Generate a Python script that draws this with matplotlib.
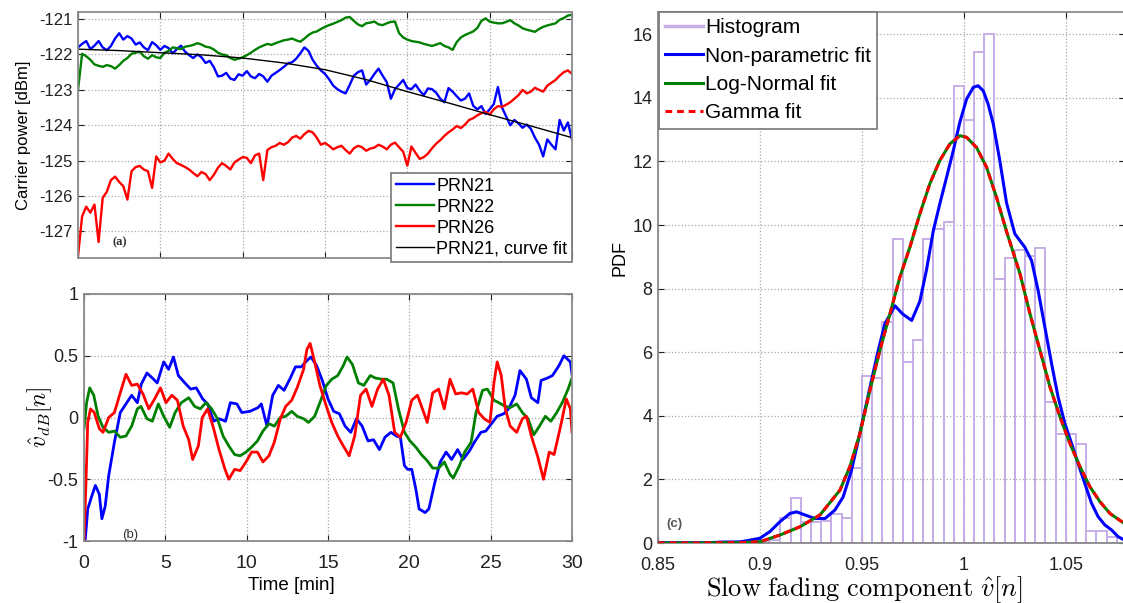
import numpy as np
import matplotlib
matplotlib.use('Agg')
import matplotlib.pyplot as plt

plt.rcParams['font.family'] = ['Liberation Sans', 'DejaVu Sans']
plt.rcParams['mathtext.fontset'] = 'cm'
plt.rcParams['axes.unicode_minus'] = False

# ---------------- (a) carrier power, one sample every 0.25 min ----------------
time_a = np.linspace(0, 30, 121)

prn21 = [-121.80, -121.70, -121.62, -121.85, -121.75, -121.62, -121.80, -121.88, -121.76, -121.55,
         -121.40, -121.58, -121.48, -121.55, -121.72, -121.66, -121.80, -121.88, -121.65, -121.74,
         -121.87, -121.76, -121.82, -121.97, -121.85, -121.75, -121.92, -122.02, -122.10, -122.00,
         -122.08, -122.24, -122.18, -122.36, -122.62, -122.60, -122.52, -122.68, -122.72, -122.56,
         -122.60, -122.47, -122.62, -122.67, -122.55, -122.62, -122.77, -122.60, -122.52, -122.44,
         -122.35, -122.25, -122.22, -122.12, -121.97, -121.80, -121.90, -122.15, -122.32, -122.45,
         -122.55, -122.70, -122.88, -122.98, -123.05, -123.10, -122.86, -122.60, -122.50, -122.45,
         -122.85, -122.72, -122.55, -122.40, -122.60, -122.78, -123.25, -122.98, -122.85, -122.72,
         -122.95, -122.98, -122.85, -123.02, -123.15, -122.96, -122.98, -123.08, -123.25, -123.35,
         -122.95, -123.05, -123.18, -123.30, -123.25, -123.10, -123.45, -123.55, -123.46, -123.68,
         -123.55, -123.40, -122.92, -123.50, -123.75, -124.00, -123.85, -123.95, -124.07, -123.98,
         -124.10, -124.35, -124.55, -124.88, -124.40, -124.55, -124.68, -123.85, -124.15, -123.92,
         -124.40]

prn22 = [-123.00, -121.98, -122.05, -122.15, -122.28, -122.32, -122.35, -122.30, -122.33, -122.40,
         -122.30, -122.18, -122.10, -121.98, -121.95, -121.92, -122.05, -122.12, -122.02, -122.08,
         -122.10, -121.95, -121.90, -121.80, -121.82, -121.85, -121.78, -121.76, -121.73, -121.68,
         -121.72, -121.78, -121.80, -121.86, -121.95, -122.00, -122.02, -122.10, -122.15, -122.12,
         -122.08, -122.02, -121.95, -121.87, -121.80, -121.75, -121.70, -121.73, -121.68, -121.64,
         -121.60, -121.58, -121.55, -121.60, -121.64, -121.55, -121.45, -121.38, -121.35, -121.28,
         -121.22, -121.17, -121.13, -121.08, -121.03, -120.96, -120.94, -121.05, -121.15, -121.20,
         -121.12, -121.10, -121.07, -121.15, -121.17, -121.12, -121.08, -121.07, -121.40, -121.52,
         -121.58, -121.62, -121.64, -121.66, -121.70, -121.73, -121.76, -121.72, -121.68, -121.76,
         -121.80, -121.87, -121.65, -121.52, -121.45, -121.40, -121.35, -121.25, -121.05, -120.98,
         -121.07, -121.10, -121.12, -121.12, -121.08, -121.03, -121.12, -121.18, -121.26, -121.30,
         -121.33, -121.36, -121.28, -121.22, -121.18, -121.15, -121.12, -121.02, -120.97, -120.90,
         -120.88]

prn26 = [-127.70, -126.57, -126.30, -126.47, -126.24, -127.30, -126.05, -125.88, -125.55, -125.45,
         -125.60, -125.72, -126.10, -125.30, -125.18, -125.15, -125.25, -125.30, -125.77, -124.88,
         -125.05, -125.00, -124.80, -124.95, -125.07, -125.12, -125.18, -125.25, -125.35, -125.44,
         -125.32, -125.38, -125.55, -125.40, -125.20, -125.07, -125.15, -125.25, -125.05, -124.97,
         -124.90, -124.92, -125.07, -124.85, -124.80, -125.55, -124.70, -124.62, -124.58, -124.50,
         -124.55, -124.48, -124.35, -124.30, -124.38, -124.25, -124.16, -124.20, -124.35, -124.55,
         -124.50, -124.58, -124.68, -124.62, -124.58, -124.70, -124.80, -124.65, -124.58, -124.62,
         -124.72, -124.66, -124.63, -124.55, -124.60, -124.68, -124.55, -124.49, -124.62, -124.75,
         -125.14, -124.60, -124.78, -124.95, -124.90, -124.80, -124.65, -124.52, -124.42, -124.30,
         -124.20, -124.12, -124.02, -124.08, -123.98, -123.85, -123.80, -123.72, -123.66, -123.62,
         -123.70, -123.55, -123.46, -123.48, -123.42, -123.35, -123.25, -123.15, -123.00, -123.10,
         -123.05, -122.94, -123.00, -123.05, -122.88, -122.80, -122.72, -122.60, -122.50, -122.45,
         -122.55]

fit_time = [0, 2.5, 5, 7.5, 10, 12.5, 15, 17.5, 20, 22.5, 25, 27.5, 30]
prn21_fit = [-121.85, -121.89, -121.95, -122.01, -122.10, -122.24, -122.43, -122.71, -123.05,
             -123.37, -123.70, -124.02, -124.35]

# ---------------- (b) slow fading in dB ----------------
t21 = [0.07, 0.23, 0.47, 0.7, 0.94, 1.1, 1.3, 1.52, 1.87, 2.23, 2.58, 2.93, 3.28, 3.52, 3.87, 4.2,
       4.5, 4.9, 5.2, 5.5, 5.8, 6.2, 6.56, 6.9, 7.3, 7.6, 7.97, 8.3, 8.7, 9.0, 9.4, 9.7, 10.2,
       10.7, 10.9, 11.25, 11.6, 11.95, 12.3, 12.65, 13.0, 13.36, 13.7, 13.95, 14.3, 14.65, 15.0,
       15.35, 15.7, 16.05, 16.4, 16.75, 17.1, 17.46, 17.8, 18.16, 18.5, 18.87, 19.2, 19.45, 19.7,
       19.9, 20.15, 20.4, 20.6, 20.97, 21.2, 21.56, 21.9, 22.26, 22.6, 22.97, 23.3, 23.7, 24.0,
       24.4, 24.7, 25.05, 25.4, 25.8, 26.1, 26.5, 26.8, 27.2, 27.5, 27.9, 28.1, 28.5, 28.8, 29.2,
       29.5, 29.9, 30.0]
v21 = [-1.0, -0.74, -0.64, -0.55, -0.62, -0.82, -0.72, -0.47, -0.2, 0.04, 0.11, 0.18, 0.12, 0.27,
       0.36, 0.32, 0.28, 0.45, 0.39, 0.49, 0.34, 0.28, 0.23, 0.24, 0.15, 0.11, -0.03, -0.01, -0.03,
       0.12, 0.11, 0.04, 0.05, 0.08, 0.11, -0.07, 0.18, 0.26, 0.22, 0.31, 0.41, 0.41, 0.46, 0.49,
       0.42, 0.3, 0.15, 0.05, 0.03, -0.07, -0.12, -0.01, -0.07, -0.19, -0.18, -0.26, -0.16, -0.12,
       -0.15, -0.16, -0.39, -0.42, -0.42, -0.58, -0.74, -0.77, -0.74, -0.53, -0.36, -0.28, -0.34,
       -0.26, -0.34, -0.27, -0.2, -0.12, -0.11, -0.05, 0.01, 0.03, 0.07, 0.18, 0.38, 0.31, 0.16,
       0.12, 0.3, 0.32, 0.34, 0.42, 0.5, 0.45, 0.35]

t22 = [0, 0.16, 0.35, 0.6, 0.87, 1.17, 1.52, 1.87, 2.23, 2.58, 2.93, 3.28, 3.5, 3.87, 4.2, 4.57,
       4.9, 5.27, 5.6, 5.98, 6.44, 6.8, 7.15, 7.5, 7.85, 8.2, 8.55, 8.9, 9.26, 9.6, 9.96, 10.3,
       10.66, 11.0, 11.37, 11.7, 12.07, 12.4, 12.77, 13.1, 13.5, 13.8, 14.18, 14.5, 14.9, 15.23,
       15.6, 15.94, 16.17, 16.5, 16.87, 17.2, 17.6, 17.9, 18.3, 18.6, 19.0, 19.33, 19.7, 20.04,
       20.4, 20.74, 21.1, 21.44, 21.8, 22.15, 22.5, 22.7, 23.08, 23.4, 23.8, 24.1, 24.5, 24.8,
       25.2, 25.5, 25.9, 26.2, 26.6, 26.95, 27.3, 27.65, 28.0, 28.36, 28.7, 29.06, 29.4, 29.76,
       30.0]
v22 = [-0.09, 0.12, 0.24, 0.18, 0.01, -0.08, -0.12, -0.11, -0.16, -0.15, -0.07, 0.07, 0.09, -0.01,
       -0.03, 0.11, 0.01, -0.08, 0.04, 0.12, 0.16, 0.09, 0.07, 0.12, 0.07, -0.01, -0.15, -0.23,
       -0.3, -0.31, -0.28, -0.24, -0.19, -0.11, -0.05, -0.07, 0.0, 0.01, 0.05, 0.01, -0.01, -0.04,
       0.01, 0.12, 0.26, 0.31, 0.34, 0.42, 0.49, 0.43, 0.28, 0.26, 0.34, 0.32, 0.31, 0.31, 0.28,
       0.07, -0.12, -0.19, -0.24, -0.3, -0.35, -0.41, -0.41, -0.36, -0.46, -0.49, -0.39, -0.28,
       -0.2, 0.04, 0.22, 0.23, 0.14, 0.12, 0.09, 0.08, 0.11, 0.04, -0.01, -0.14, -0.07, 0.01,
       -0.03, 0.04, 0.12, 0.23, 0.32]

t26 = [0, 0.12, 0.23, 0.4, 0.63, 0.94, 1.17, 1.52, 1.87, 2.23, 2.58, 2.93, 3.28, 3.63, 3.98, 4.34,
       4.7, 5.04, 5.4, 5.74, 6.1, 6.44, 6.68, 7.03, 7.27, 7.6, 7.97, 8.3, 8.67, 8.9, 9.26, 9.6,
       9.96, 10.3, 10.66, 11.0, 11.37, 11.7, 12.07, 12.4, 12.77, 13.1, 13.5, 13.7, 13.9, 14.18,
       14.5, 14.9, 15.23, 15.6, 15.94, 16.3, 16.64, 17.0, 17.34, 17.7, 18.05, 18.4, 18.75, 19.1,
       19.45, 19.8, 20.15, 20.5, 20.86, 21.1, 21.44, 21.8, 22.15, 22.5, 22.85, 23.2, 23.55, 23.9,
       24.26, 24.6, 24.96, 25.2, 25.4, 25.65, 25.9, 26.2, 26.6, 26.95, 27.2, 27.5, 27.9, 28.25,
       28.6, 28.9, 29.3, 29.65, 29.9, 30.0]
v26 = [-1.0, -0.53, -0.04, 0.07, 0.04, -0.09, -0.12, 0.0, 0.04, 0.2, 0.35, 0.26, 0.27, 0.19, 0.07,
       0.15, 0.24, 0.12, 0.18, 0.14, -0.07, -0.18, -0.34, -0.23, 0.0, 0.07, -0.09, -0.26, -0.42,
       -0.5, -0.42, -0.43, -0.36, -0.28, -0.28, -0.36, -0.31, -0.2, -0.01, 0.09, 0.14, 0.24, 0.39,
       0.55, 0.6, 0.45, 0.26, 0.09, -0.04, -0.15, -0.23, -0.31, -0.15, 0.18, 0.23, 0.09, 0.23,
       0.31, 0.18, -0.12, -0.16, -0.04, 0.14, 0.18, 0.05, -0.04, 0.2, 0.23, 0.07, 0.31, 0.19,
       0.2, 0.19, 0.23, 0.04, -0.01, -0.04, 0.28, 0.45, 0.34, 0.07, -0.07, -0.12, -0.01, 0.01,
       -0.15, -0.32, -0.5, -0.28, -0.3, -0.07, 0.15, 0.07, -0.12]

# ---------------- (c) PDF of slow fading component ----------------
hist_centers = [0.8825, 0.8875, 0.8925, 0.8975, 0.9025, 0.9075, 0.9125, 0.9175, 0.9225, 0.9275,
                0.9325, 0.9375, 0.9425, 0.9475, 0.9525, 0.9575, 0.9625, 0.9675, 0.9725, 0.9775,
                0.9825, 0.9875, 0.9925, 0.9975, 1.0025, 1.0075, 1.0125, 1.0175, 1.0225, 1.0275,
                1.0325, 1.0375, 1.0425, 1.0475, 1.0525, 1.0575, 1.0625, 1.0675, 1.0725]
hist_pdf = [0.05, 0.05, 0.05, 0.07, 0.07, 0.1, 0.78, 1.40, 0.67, 0.67,
            0.7, 0.9, 0.78, 2.35, 5.24, 5.18, 6.95, 9.57, 5.69, 6.40,
            9.57, 9.88, 10.09, 14.36, 13.31, 15.43, 16.0, 8.3, 8.95, 9.2,
            9.04, 9.27, 4.44, 3.42, 3.42, 3.11, 0.39, 0.39, 0.2]

kde_x = [0.85, 0.87, 0.89, 0.8951, 0.9, 0.9049, 0.9098, 0.9147, 0.918, 0.9221, 0.927, 0.9319,
         0.9368, 0.9408, 0.9449, 0.9482, 0.9515, 0.9547, 0.958, 0.9613, 0.9662, 0.97, 0.9744,
         0.9784, 0.9817, 0.985, 0.9882, 0.9915, 0.9948, 0.998, 1.0013, 1.0046, 1.007, 1.0095,
         1.0119, 1.0144, 1.0176, 1.0209, 1.025, 1.0299, 1.0332, 1.0364, 1.0397, 1.043, 1.0462,
         1.0495, 1.0528, 1.056, 1.0593, 1.0626, 1.0658, 1.0691, 1.0724, 1.0756, 1.079]
kde_pdf = [0.01, 0.01, 0.03, 0.09, 0.15, 0.36, 0.67, 0.93, 0.98, 0.88, 0.77, 0.77,
           1.04, 1.45, 2.29, 3.23, 4.18, 5.12, 6.06, 6.9, 7.46, 7.2, 7.0,
           7.6, 8.6, 9.82, 10.67, 11.5, 12.34, 13.23, 13.96, 14.33, 14.38, 14.22,
           13.8, 13.18, 12.03, 10.7, 9.72, 9.3, 8.88, 7.94, 6.79, 5.64, 4.59,
           3.76, 3.13, 2.5, 1.87, 1.25, 0.83, 0.57, 0.41, 0.2, 0.08]

fit_x = [0.85, 0.87, 0.89, 0.9, 0.9098, 0.9196, 0.9294, 0.9392, 0.9441, 0.949, 0.9539, 0.9588,
         0.9637, 0.9686, 0.9735, 0.9784, 0.9833, 0.9882, 0.9931, 0.998, 1.0013, 1.0062, 1.0111,
         1.016, 1.0209, 1.0275, 1.0324, 1.0373, 1.0422, 1.0471, 1.052, 1.0569, 1.0618, 1.0667,
         1.0716, 1.079]
lognormal_pdf = [0.0, 0.0, 0.01, 0.04, 0.25, 0.51, 0.88, 1.66, 2.4, 3.44, 4.8, 6.06,
                 7.2, 8.36, 9.3, 10.35, 11.3, 12.03, 12.55, 12.81, 12.76, 12.44, 11.82,
                 10.87, 9.8, 8.47, 7.21, 6.06, 4.91, 3.97, 3.13, 2.4, 1.77, 1.3,
                 0.93, 0.6]
gamma_pdf = [0.0, 0.0, 0.01, 0.04, 0.25, 0.51, 0.88, 1.66, 2.4, 3.44, 4.8, 6.06,
             7.2, 8.36, 9.3, 10.35, 11.3, 12.03, 12.55, 12.81, 12.76, 12.44, 11.82,
             10.87, 9.8, 8.47, 7.21, 6.06, 4.91, 3.97, 3.13, 2.4, 1.77, 1.3,
             0.93, 0.6]

BLUE, GREEN, RED = '#0000ff', '#008000', '#ff0000'
HIST = '#c6aee8'

W, H = 1123, 603
fig = plt.figure(figsize=(W / 100, H / 100), dpi=100)
ax1 = fig.add_axes([78 / W, 1 - 258 / H, (572 - 78) / W, (258 - 12) / H])
ax2 = fig.add_axes([84 / W, 1 - 541 / H, (572 - 84) / W, (541 - 294) / H])
ax3 = fig.add_axes([658 / W, 1 - 543 / H, (1125 - 658) / W, (543 - 12) / H])


def matlab_look(ax, size=12):
    ax.grid(True, ls=':', color='#a8a8a8', lw=0.9)
    ax.set_axisbelow(True)
    ax.tick_params(direction='in', top=True, right=True, labelsize=size,
                   colors='#222222', length=4, width=0.8, pad=4)
    for s in ax.spines.values():
        s.set_color('#8a8a8a')
        s.set_linewidth(1.3)


# (a)
ax1.plot(time_a, prn21, color=BLUE, lw=1.7, label='PRN21')
ax1.plot(time_a, prn22, color=GREEN, lw=1.7, label='PRN22')
ax1.plot(time_a, prn26, color=RED, lw=1.7, label='PRN26')
ax1.plot(fit_time, prn21_fit, color='black', lw=1.0, label='PRN21, curve fit')
ax1.set_xlim(0, 30)
ax1.set_ylim(-127.75, -120.8)
ax1.set_xticks(range(0, 31, 5))
ax1.set_xticklabels([])
ax1.set_yticks(range(-127, -120))
matlab_look(ax1, 12)
ax1.set_ylabel('Carrier power [dBm]', fontsize=12)
ax1.yaxis.set_label_coords(-0.095, 0.5)
ax1.text(0.07, 0.05, '(a)', transform=ax1.transAxes, fontsize=9, fontweight='bold',
         family='Liberation Serif', color='#333333')
leg1 = ax1.legend(loc='upper right', bbox_to_anchor=(1.0, 0.345), borderaxespad=0,
                  fontsize=13, frameon=True, fancybox=False, handlelength=2.1,
                  handletextpad=0.15, labelspacing=0.22, borderpad=0.25)
leg1.get_frame().set_edgecolor('#777777')
leg1.get_frame().set_linewidth(1.2)
leg1.get_frame().set_alpha(1)
leg1.set_zorder(5)

# (b)
ax2.plot(t21, v21, color=BLUE, lw=2.0)
ax2.plot(t22, v22, color=GREEN, lw=2.0)
ax2.plot(t26, v26, color=RED, lw=2.0)
ax2.set_xlim(0, 30)
ax2.set_ylim(-1, 1)
ax2.set_xticks(range(0, 31, 5))
ax2.set_yticks([-1, -0.5, 0, 0.5, 1])
ax2.set_yticklabels(['-1', '-0.5', '0', '0.5', '1'])
matlab_look(ax2, 13)
ax2.tick_params(axis='x', labelsize=14, pad=10)
ax2.set_xlabel('Time [min]', fontsize=13.5)
ax2.xaxis.set_label_coords((291 - 84) / 488, -0.145)
ax2.set_ylabel(r'$\hat{v}_{dB}[n]$', fontsize=17)
ax2.yaxis.set_label_coords(-0.062, 0.5)
ax2.text(0.095, 0.012, '(b)', transform=ax2.transAxes, fontsize=9.5, ha='center',
         color='#333333')

# (c)
ax3.bar(hist_centers, hist_pdf, width=0.005, fill=False, edgecolor=HIST, lw=1.4, zorder=2)
ax3.plot([], [], color=HIST, lw=2.5, label='Histogram')
ax3.plot(kde_x, kde_pdf, color=BLUE, lw=2.2, label='Non-parametric fit', zorder=4)
ax3.plot(fit_x, lognormal_pdf, color=GREEN, lw=2.2, label='Log-Normal fit', zorder=4)
ax3.plot(fit_x, gamma_pdf, color=RED, lw=2.2, ls=(0, (2.2, 1.6)), label='Gamma fit', zorder=5)
ax3.set_xlim(0.85, 1.079)
ax3.set_ylim(0, 16.7)
ax3.set_xticks([0.85, 0.9, 0.95, 1.0, 1.05])
ax3.set_xticklabels(['0.85', '0.9', '0.95', '1', '1.05'])
ax3.set_yticks(range(0, 17, 2))
matlab_look(ax3, 13)
ax3.tick_params(axis='x', pad=10)
ax3.set_ylabel('PDF', fontsize=13)
ax3.yaxis.set_label_coords(-0.064, 0.537)
ax3.set_xlabel(r'$\mathrm{Slow\ fading\ component}\ \hat{v}[n]$', fontsize=19)
ax3.xaxis.set_label_coords((864 - 658) / 467, -0.058)
ax3.text(0.036, 0.03, '(c)', transform=ax3.transAxes, fontsize=9.5, ha='center',
         fontweight='bold', color='#555555')
leg3 = ax3.legend(loc='upper left', bbox_to_anchor=(0.002, 1.0), borderaxespad=0,
                  fontsize=15, frameon=True, fancybox=False, handlelength=1.8,
                  handletextpad=0.12, labelspacing=0.45, borderpad=0.3)
leg3.get_frame().set_edgecolor('#777777')
leg3.get_frame().set_linewidth(1.2)
leg3.get_frame().set_alpha(1)

fig.savefig('out.png', dpi=100)
